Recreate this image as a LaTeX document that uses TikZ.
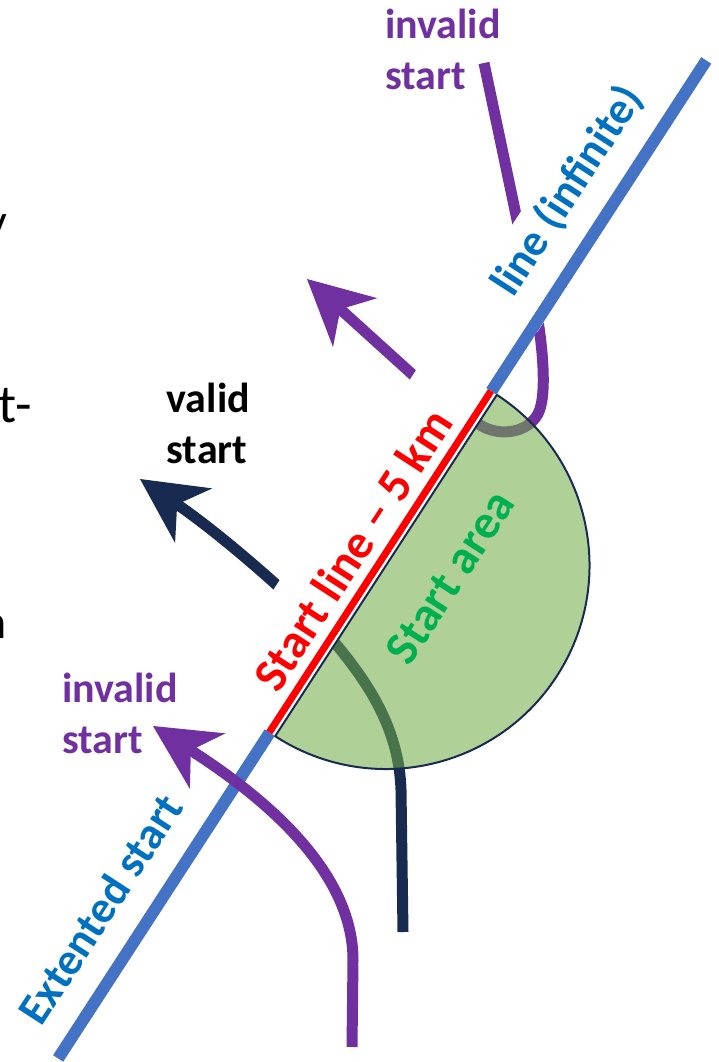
\documentclass[tikz,border=0pt]{standalone}
\usepackage{fontspec}
\setmainfont{Carlito}
\usetikzlibrary{arrows.meta}
\definecolor{purp}{HTML}{7030A0}
\definecolor{navy}{HTML}{192A50}
\definecolor{lineblue}{HTML}{4472C4}
\definecolor{textblue}{HTML}{0070C0}
\definecolor{areagreen}{HTML}{70AD47}
\definecolor{textgreen}{HTML}{00B050}
\begin{document}
\begin{tikzpicture}[x=1pt,y=-1pt,
  thickpath/.style={line width=11pt},
  arrowtip/.style={-{Stealth[length=65pt,width=66pt,inset=20pt,line width=0pt]}},
  lbl/.style={font=\bfseries\fontsize{42}{51}\selectfont, align=left, inner sep=0pt, anchor=north west},
  frag/.style={font=\fontsize{48}{58}\selectfont, inner sep=0pt, anchor=base east},
  rot/.style={transform shape, font=\bfseries\fontsize{48}{58}\selectfont},
  maskbox/.style={fill=white, anchor=south, inner ysep=0pt},
]
\useasboundingbox (0,0) rectangle (718,1062);
% clipped text of the slide at the left edge
\node[frag] (fy) at (7,237) {y};
\node[frag, font=\fontsize{54}{64}\selectfont] (ft) at (32,422) {t-};
\node[frag] (fn) at (6.5,638) {n};

% path coordinates
\coordinate (vstart) at (403,932);
\coordinate (vend) at (140,479);
\coordinate (istart) at (484,63);
\coordinate (iend) at (307,279);
\coordinate (bstart) at (352,1047);
\coordinate (bend) at (153,726);

% valid start (navy)
\draw[thickpath, navy, arrowtip] (vstart) -- (401,790) .. controls (399,730) and (370,685) .. (335,643)
  .. controls (305,607) and (222,535) .. (vend);
% invalid start from the top (purple)
\draw[thickpath, purp, arrowtip] (istart) -- (536,310) .. controls (542,340) and (546,385) .. (541,405)
  .. controls (536,432) and (500,440) .. (477,423) .. controls (455,410) and (435,395) .. (413,375) -- (iend);

\begin{scope}[shift={(386,565.5)}, rotate=57]
  \node[rot, red, maskbox, inner xsep=26pt, text height=61pt, text depth=20pt] (sl) at (-5,0) {Start line – 5 km};
  \node[rot, textblue, maskbox, inner xsep=15pt, text height=41.5pt, text depth=38pt,
        font=\bfseries\fontsize{45}{54}\selectfont] (li) at (413,0) {line (infinite)};
  \fill[areagreen, fill opacity=0.56] (203.5,0) arc[start angle=0, end angle=180, radius=203.5] -- cycle;
  \draw[navy, line width=2pt] (203.5,0) arc[start angle=0, end angle=180, radius=203.5] -- cycle;
  \draw[lineblue, line width=12pt] (-592,-6.5) -- (-203.5,-6.5);
  \draw[lineblue, line width=12pt] (203.5,-6.5) -- (598,-6.5);
  \draw[red, line width=7pt] (-203.5,-7) -- (203.5,-7);
  \node[rot, textgreen] (sa) at (25,60) {Start area};
  \node[rot, textblue, anchor=base, font=\bfseries\fontsize{45}{54}\selectfont] (es) at (-443.7,-37) {Extented start};
\end{scope}

% invalid start from the bottom (purple)
\draw[thickpath, purp, arrowtip] (bstart) -- (353,960) .. controls (353,870) and (262,796) .. (bend);

% labels
\node[lbl, purp] (inv1) at (385,-2) {\rule{0pt}{40pt}invalid\\start};
\node[lbl, black] (val) at (166.5,372) {\rule{0pt}{40pt}valid\\start};
\node[lbl, purp] (inv2) at (62,662) {\rule{0pt}{40pt}invalid\\start};
\end{tikzpicture}
\end{document}
